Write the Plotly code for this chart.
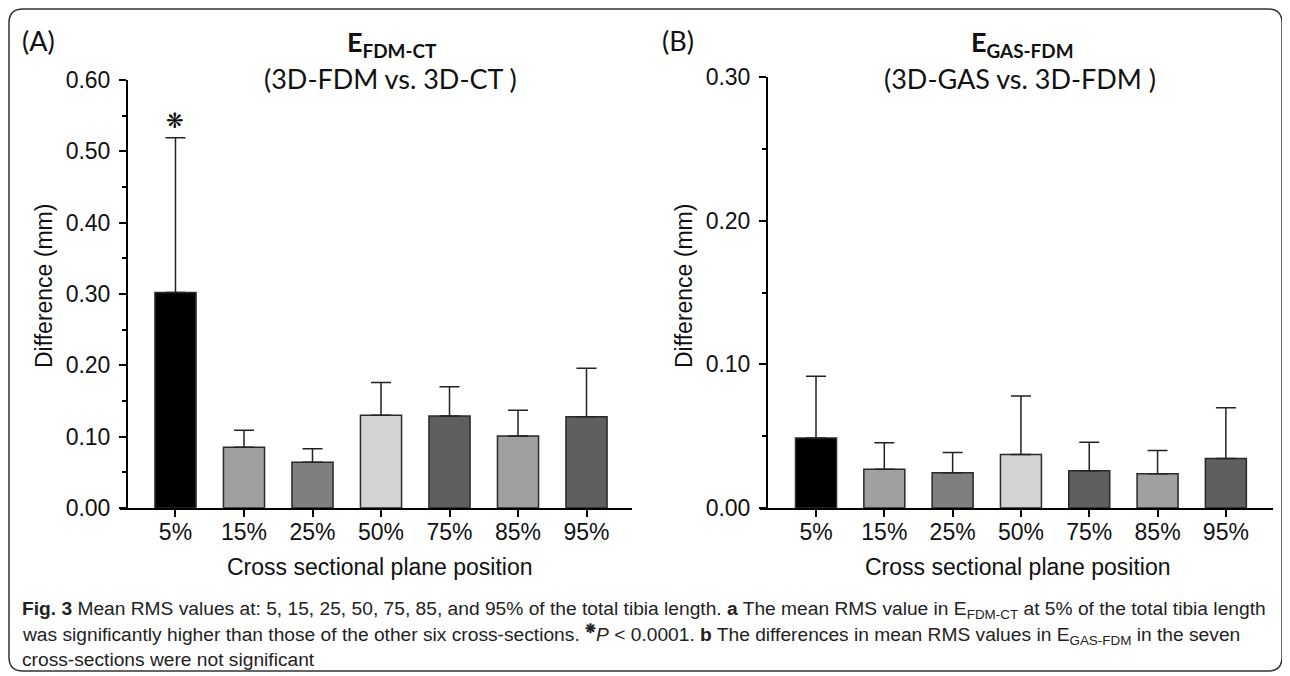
import plotly.graph_objects as go

# The page body adds an 8 px margin, so the figure is sized to fit the window.
OFF = 8
W, H = 1290 - OFF, 676 - OFF

categories = ["5%", "15%", "25%", "50%", "75%", "85%", "95%"]
colors = ["#000000", "#a0a0a0", "#7f7f7f", "#d3d3d3", "#5f5f5f", "#a0a0a0", "#5f5f5f"]

mean_a = [0.302, 0.085, 0.064, 0.130, 0.129, 0.101, 0.128]
upper_a = [0.519, 0.109, 0.083, 0.176, 0.170, 0.137, 0.196]

mean_b = [0.0488, 0.027, 0.0245, 0.0373, 0.026, 0.0238, 0.0345]
upper_b = [0.0917, 0.0454, 0.0387, 0.078, 0.0458, 0.040, 0.0697]

yticks_a = [0.0, 0.1, 0.2, 0.3, 0.4, 0.5, 0.6]
yticks_b = [0.0, 0.1, 0.2, 0.3]


def px(x):
    return (x - OFF) / W


def py(y):
    return 1 - (y - OFF) / H


fig = go.Figure()

for mean, upper, xa, ya in [(mean_a, upper_a, "x", "y"), (mean_b, upper_b, "x2", "y2")]:
    fig.add_trace(go.Bar(
        x=list(range(len(categories))), y=mean, xaxis=xa, yaxis=ya,
        width=0.6,
        marker=dict(color=colors, line=dict(color="#2a2a2a", width=1.5)),
        error_y=dict(type="data", symmetric=False,
                     array=[u - m for u, m in zip(upper, mean)],
                     arrayminus=[0] * len(mean),
                     color="#222222", thickness=1.5, width=10),
        showlegend=False,
    ))

axis_font = dict(family="Liberation Sans, Arial, sans-serif", size=23, color="#111111")

common_x = dict(
    tickmode="array", tickvals=list(range(len(categories))), ticktext=categories,
    showline=True, linecolor="black", linewidth=2, ticks="outside", ticklen=7,
    tickwidth=2, tickcolor="black", showgrid=False, zeroline=False,
    tickfont=axis_font, fixedrange=True, automargin=False, ticklabelstandoff=-5,
)
common_y = dict(
    showline=True, linecolor="black", linewidth=2, ticks="outside", ticklen=7,
    tickwidth=2, tickcolor="black", showgrid=False, zeroline=False,
    tickfont=axis_font, tickformat=".2f", anchor="free", automargin=False,
    ticklabelstandoff=4,
    minor=dict(ticks="outside", ticklen=4, tickwidth=2, tickcolor="black", dtick=0.05, showgrid=False),
)

fig.update_layout(
    width=W, height=H, margin=dict(l=0, r=0, t=0, b=0, pad=0, autoexpand=False),
    paper_bgcolor="white", plot_bgcolor="rgba(0,0,0,0)",
    bargap=0.4,
    xaxis=dict(common_x, domain=[px(120), px(632)], range=[-0.81, 6.664], anchor="y"),
    yaxis=dict(common_y, domain=[py(508), py(80)], range=[0, 0.6],
               tickvals=yticks_a, position=px(127)),
    xaxis2=dict(common_x, domain=[px(760), px(1273)], range=[-0.82, 6.69], anchor="y2"),
    yaxis2=dict(common_y, domain=[py(508), py(77)], range=[0, 0.3],
                tickvals=yticks_b, position=px(767)),
)

title_font = dict(family="Lato, Open Sans, sans-serif", size=27, color="#111111")
ann = []
ann.append(dict(x=px(20), y=py(40), text="(A)", font=title_font, xanchor="left", yanchor="middle"))
ann.append(dict(x=px(660), y=py(40), text="(B)", font=title_font, xanchor="left", yanchor="middle"))
ann.append(dict(x=px(392), y=py(44), text="<b>E<sub>FDM-CT</sub></b>", font=title_font, xanchor="center", yanchor="middle"))
ann.append(dict(x=px(390), y=py(78), text="(3D-FDM vs. 3D-CT )", font=title_font, xanchor="center", yanchor="middle"))
ann.append(dict(x=px(1022), y=py(44), text="<b>E<sub>GAS-FDM</sub></b>", font=title_font, xanchor="center", yanchor="middle"))
ann.append(dict(x=px(1020), y=py(78), text="(3D-GAS vs. 3D-FDM )", font=title_font, xanchor="center", yanchor="middle"))

lab_font = dict(family="Liberation Sans, Arial, sans-serif", size=23, color="#111111")
ann.append(dict(x=px(380), y=py(567), text="Cross sectional plane position", font=lab_font, xanchor="center", yanchor="middle"))
ann.append(dict(x=px(1018), y=py(567), text="Cross sectional plane position", font=lab_font, xanchor="center", yanchor="middle"))
ann.append(dict(x=px(44), y=py(286), text="Difference (mm)", font=lab_font, textangle=-90, xanchor="center", yanchor="middle"))
ann.append(dict(x=px(684), y=py(286), text="Difference (mm)", font=lab_font, textangle=-90, xanchor="center", yanchor="middle"))

# significance marker above the 5% bar of panel A
ann.append(dict(x=0, y=upper_a[0], xref="x", yref="y", text="❋", showarrow=False,
                font=dict(family="DejaVu Sans", size=21, color="#111111"),
                xanchor="center", yanchor="bottom", yshift=3))

cap_font = dict(family="Liberation Sans, Arial, sans-serif", size=19.2, color="#222222")
cap_lines = [
    "<b>Fig. 3</b> Mean RMS values at: 5, 15, 25, 50, 75, 85, and 95% of the total tibia length. <b>a</b> The mean RMS value in E<sub>FDM-CT</sub> at 5% of the total tibia length",
    "was significantly higher than those of the other six cross-sections. <b><sup>❋</sup></b><i>P</i> &lt; 0.0001. <b>b</b> The differences in mean RMS values in E<sub>GAS-FDM</sub> in the seven",
    "cross-sections were not significant",
]
for i, t in enumerate(cap_lines):
    ann.append(dict(x=px(20), y=py(610 + 24.5 * i), text=t, font=cap_font, xanchor="left", yanchor="middle"))

for a in ann:
    a.setdefault("xref", "paper")
    a.setdefault("yref", "paper")
    a.setdefault("showarrow", False)
fig.update_layout(annotations=ann)

# rounded frame around the figure
x0, x1, y0, y1, r = 9, 1282, 9, 671, 14
path = (f"M {px(x0 + r)},{py(y0)} L {px(x1 - r)},{py(y0)} Q {px(x1)},{py(y0)} {px(x1)},{py(y0 + r)} "
        f"L {px(x1)},{py(y1 - r)} Q {px(x1)},{py(y1)} {px(x1 - r)},{py(y1)} "
        f"L {px(x0 + r)},{py(y1)} Q {px(x0)},{py(y1)} {px(x0)},{py(y1 - r)} "
        f"L {px(x0)},{py(y0 + r)} Q {px(x0)},{py(y0)} {px(x0 + r)},{py(y0)} Z")
fig.add_shape(type="path", path=path, xref="paper", yref="paper",
              line=dict(color="#333333", width=1.5), fillcolor="rgba(0,0,0,0)")

fig.write_html("out.html")
